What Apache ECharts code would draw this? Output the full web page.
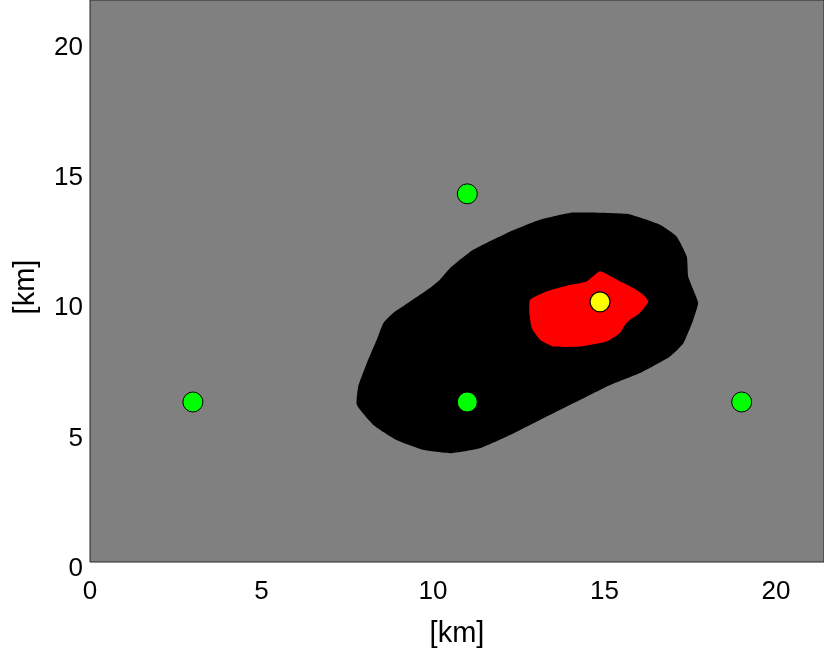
<!DOCTYPE html>
<html>
<head>
<meta charset="utf-8">
<script src="https://cdn.jsdelivr.net/npm/echarts@6/dist/echarts.min.js"></script>
<style>
  html, body { margin: 0; padding: 0; background: #ffffff; }
  #chart { width: 824px; height: 655px; }
</style>
</head>
<body>
<div id="chart"></div>
<script>
// Axis extents (km) and tick spacing
const xMax = 21.4;
const yMax = 21.6;
const tickStep = 5;

// Detection zone outline (km)
const outerZone = [
  [14.09, 13.43], [15.65, 13.38], [16.62, 12.96], [17.10, 12.51], [17.40, 11.74],
  [17.44, 10.97], [17.59, 10.46], [17.73, 9.95], [17.59, 9.31], [17.30, 8.41],
  [16.91, 7.90], [16.03, 7.26], [15.06, 6.74], [14.09, 6.10], [13.12, 5.46],
  [12.15, 4.82], [11.37, 4.37], [10.50, 4.18], [9.72, 4.31], [8.94, 4.69],
  [8.26, 5.27], [7.78, 6.04], [7.82, 6.74], [8.07, 7.64], [8.36, 8.54],
  [8.55, 9.18], [8.84, 9.57], [9.33, 10.01], [9.91, 10.53], [10.20, 10.85],
  [10.50, 11.30], [11.17, 12.00], [12.15, 12.64], [13.12, 13.15]
];

// Inner high-confidence zone outline (km)
const innerZone = [
  [14.87, 11.17], [15.36, 10.85], [15.84, 10.53], [16.13, 10.27], [16.28, 10.01],
  [16.03, 9.57], [15.74, 9.31], [15.60, 9.12], [15.45, 8.80], [15.06, 8.47],
  [14.29, 8.28], [13.51, 8.28], [13.12, 8.54], [12.88, 8.99], [12.81, 9.57],
  [12.83, 10.08], [13.31, 10.40], [13.90, 10.62], [14.48, 10.78]
];

// Sensor stations (km)
const stations = [[3, 6.15], [11, 14.15], [11, 6.15], [19, 6.15]];

// Source location (km)
const source = [[14.87, 10.0]];

const labelFont = 'Liberation Sans, Arial, Helvetica, sans-serif';

function polygonSeries(points, color) {
  return {
    type: 'custom',
    coordinateSystem: 'cartesian2d',
    silent: true,
    z: 1,
    data: [0],
    renderItem: function (params, api) {
      const pts = points.map(function (p) { return api.coord(p); });
      return {
        type: 'polygon',
        shape: { points: pts, smooth: 0.15 },
        style: { fill: color, stroke: null }
      };
    }
  };
}

const chart = echarts.init(document.getElementById('chart'), null, { renderer: 'canvas' });

chart.setOption({
  animation: false,
  backgroundColor: '#ffffff',
  grid: {
    left: 90,
    top: 0,
    right: 0,
    height: 562,
    show: true,
    backgroundColor: '#808080',
    borderColor: '#262626',
    borderWidth: 1
  },
  xAxis: {
    type: 'value',
    min: 0,
    max: xMax,
    interval: tickStep,
    name: '[km]',
    nameLocation: 'middle',
    nameGap: 57,
    nameTextStyle: { color: '#000', fontSize: 29, fontFamily: labelFont },
    axisLine: { show: false },
    axisTick: { show: false },
    splitLine: { show: false },
    axisLabel: {
      color: '#000',
      fontSize: 26,
      fontFamily: labelFont,
      margin: 17,
      showMaxLabel: false
    }
  },
  yAxis: {
    type: 'value',
    min: 0,
    max: yMax,
    interval: tickStep,
    name: '[km]',
    nameLocation: 'middle',
    nameGap: 50,
    nameRotate: 90,
    nameTextStyle: { color: '#000', fontSize: 29, fontFamily: labelFont, padding: [0, 12, 0, 0] },
    axisLine: { show: false },
    axisTick: { show: false },
    splitLine: { show: false },
    axisLabel: {
      color: '#000',
      fontSize: 26,
      fontFamily: labelFont,
      margin: 7,
      verticalAlign: 'top',
      lineHeight: 13,
      showMaxLabel: false
    }
  },
  series: [
    polygonSeries(outerZone, '#000000'),
    polygonSeries(innerZone, '#ff0000'),
    {
      type: 'scatter',
      z: 3,
      symbol: 'circle',
      symbolSize: 20,
      data: stations,
      itemStyle: { color: '#00ff00', borderColor: '#000000', borderWidth: 1, opacity: 1 }
    },
    {
      type: 'scatter',
      z: 3,
      symbol: 'circle',
      symbolSize: 20,
      data: source,
      itemStyle: { color: '#ffff00', borderColor: '#000000', borderWidth: 1.2, opacity: 1 }
    }
  ]
});
</script>
</body>
</html>
